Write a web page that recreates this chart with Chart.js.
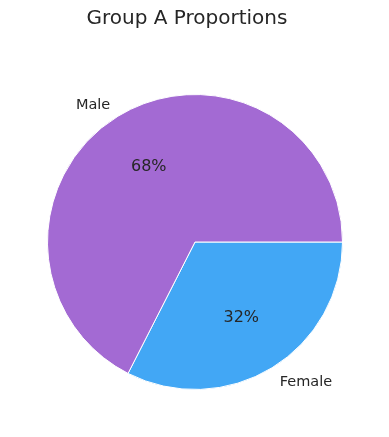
<!DOCTYPE html>
<html>
<head>
<meta charset="utf-8">
<script src="https://cdn.jsdelivr.net/npm/chart.js@4"></script>
<style>
  html, body { margin: 0; padding: 0; background: #fff; }
  #wrap { width: 389px; height: 437px; }
</style>
</head>
<body>
<div id="wrap"><canvas id="myChart" width="389" height="437"></canvas></div>
<script>
const ctx = document.querySelector("#myChart");

// data, in drawing order (clockwise from 3 o'clock)
const labels = ["Female", "Male"];
const values = [32.5, 67.5];
const colors = ["#42a7f5", "#a36ad3"];
const title = "Group A Proportions";

// round half to even, like python's "%1.0f"
function roundEven(v) {
    const f = Math.floor(v);
    const d = v - f;
    if (Math.abs(d - 0.5) < 1e-9) return f % 2 === 0 ? f : f + 1;
    return Math.round(v);
}

// text around the pie: title, outer labels and percents
const pieText = {
    id: "pieText",
    afterDraw(chart) {
        const c = chart.ctx;
        const total = values.reduce((a, b) => a + b, 0);
        c.save();
        c.fillStyle = "#262626";
        c.font = "20px 'DejaVu Sans'";
        c.textAlign = "center";
        c.textBaseline = "middle";
        c.fillText(title, 187, 19);

        chart.getDatasetMeta(0).data.forEach((arc, i) => {
            const mid = (arc.startAngle + arc.endAngle) / 2;
            const r = arc.outerRadius;
            // label at 1.1 radius
            const lx = arc.x + Math.cos(mid) * r * 1.1;
            const ly = arc.y + Math.sin(mid) * r * 1.1 + 2;
            c.font = "14.5px 'DejaVu Sans'";
            c.textAlign = Math.cos(mid) < 0 ? "right" : "left";
            c.fillText(labels[i], lx, ly);
            // percent at 0.6 radius
            const px = arc.x + Math.cos(mid) * r * 0.6;
            const py = arc.y + Math.sin(mid) * r * 0.6;
            c.font = "16px 'DejaVu Sans'";
            c.textAlign = "center";
            c.fillText(roundEven(values[i] / total * 100) + "%", px, py);
        });
        c.restore();
    }
};

new Chart(ctx, {
    type: "pie",
    data: {
        labels: labels,
        datasets: [{
            data: values,
            backgroundColor: colors,
            borderColor: "#ffffff",
            borderWidth: 1
        }]
    },
    options: {
        responsive: false,
        animation: false,
        rotation: 90,
        layout: { padding: { left: 47, right: 46, top: 94, bottom: 47 } },
        plugins: {
            legend: { display: false },
            tooltip: { enabled: false }
        }
    },
    plugins: [pieText]
});
</script>
</body>
</html>
